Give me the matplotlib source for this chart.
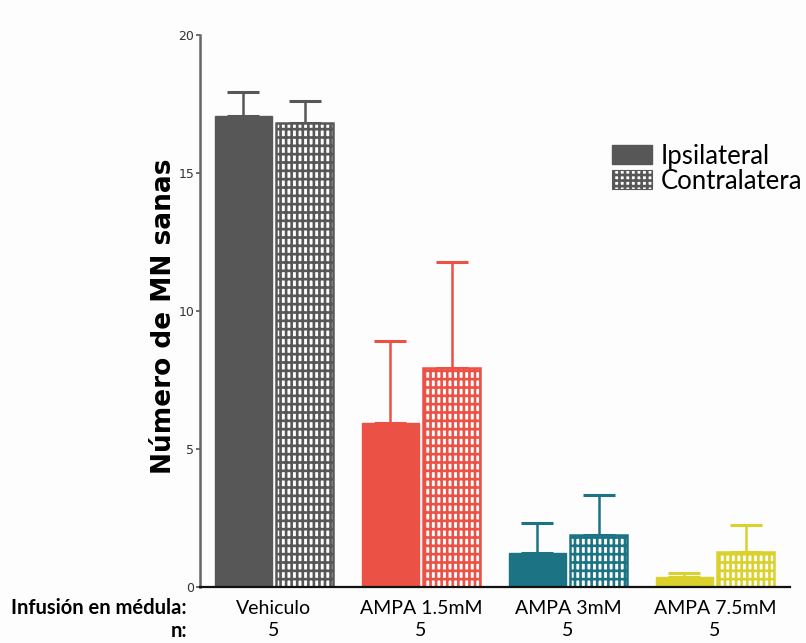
import matplotlib
matplotlib.use("Agg")
import matplotlib.pyplot as plt
from matplotlib.patches import Patch
import numpy as np

plt.rcParams['hatch.linewidth'] = 1.9

groups = ["Vehiculo", "AMPA 1.5mM", "AMPA 3mM", "AMPA 7.5mM"]
n_values = ["5", "5", "5", "5"]
ipsi = [17.05, 5.95, 1.22, 0.35]
ipsi_err = [0.88, 2.96, 1.09, 0.15]
contra = [16.8, 7.93, 1.88, 1.26]
contra_err = [0.80, 3.85, 1.45, 0.98]
colors = ["#575757", "#ec5145", "#1b7384", "#dbd12c"]
yticks = [0, 5, 10, 15, 20]
series_labels = ["Ipsilateral", "Contralatera"]

fig = plt.figure(figsize=(8.06, 6.43), dpi=100)
fig.patch.set_facecolor("#fefdfd")
ax = fig.add_axes([200/806, 1-587/643, 590/806, (587-35)/643])
ax.set_facecolor("#fefdfd")

x = np.arange(len(groups))
w = 0.388
off = 0.209
for i in range(len(groups)):
    c = colors[i]
    ax.bar(x[i] - off, ipsi[i], w, color=c, edgecolor=c, linewidth=1.0, zorder=2)
    ax.bar(x[i] + off, contra[i], w, facecolor="white", edgecolor=c, hatch="++|",
           linewidth=1.8, zorder=2)
    ax.errorbar([x[i] - off], [ipsi[i]], yerr=[[0], [ipsi_err[i]]], fmt="none",
                ecolor=c, elinewidth=1.8, capsize=11.5, capthick=2.2, zorder=1)
    ax.errorbar([x[i] + off], [contra[i]], yerr=[[0], [contra_err[i]]], fmt="none",
                ecolor=c, elinewidth=1.8, capsize=11.5, capthick=2.2, zorder=1)

ax.set_xlim(-0.503, 3.51)
ax.set_ylim(0, 20)
ax.set_yticks(yticks)
ax.set_yticklabels([str(t) for t in yticks], family=["Liberation Sans Narrow", "DejaVu Sans"],
                   fontsize=9, color="#333333")
ax.tick_params(axis="y", length=3, width=1.2, color="#555555", pad=1)
ax.set_xticks([])
for s in ["top", "right"]:
    ax.spines[s].set_visible(False)
ax.spines["left"].set_color("#666666")
ax.spines["left"].set_linewidth(1.8)
ax.spines["bottom"].set_color("#111111")
ax.spines["bottom"].set_linewidth(1.6)

fig.text(164/806, 1-316/643, "Número de MN sanas", rotation=90, ha="center", va="center",
         fontsize=19, fontweight="bold", family=["DejaVu Sans"])

lab_font = ["Lato", "DejaVu Sans"]
fig.text(187/806, 1-608/643, "Infusión en médula:", ha="right", va="center",
         fontsize=14.5, fontweight="bold", family=lab_font)
fig.text(187/806, 1-631/643, "n:", ha="right", va="center",
         fontsize=14.5, fontweight="bold", family=lab_font)
for i, g in enumerate(groups):
    xf = ax.transData.transform((x[i], 0))
    xfig = fig.transFigure.inverted().transform(xf)[0]
    fig.text(xfig, 1-608/643, g, ha="center", va="center", fontsize=14, family=lab_font)
    fig.text(xfig, 1-631/643, n_values[i], ha="center", va="center", fontsize=14, family=lab_font)

handles = [Patch(facecolor="#575757", edgecolor="#575757"),
           Patch(facecolor="white", edgecolor="#575757", hatch="+++", linewidth=0.8)]
fig.legend(handles, series_labels, loc="upper left", bbox_to_anchor=(599/806, 1-131/643),
           frameon=False, borderpad=0, handlelength=1.55, handleheight=0.76,
           labelspacing=0.0, handletextpad=0.34, prop={"family": lab_font, "size": 18.5})

fig.savefig("out.png", dpi=100, facecolor=fig.get_facecolor())
